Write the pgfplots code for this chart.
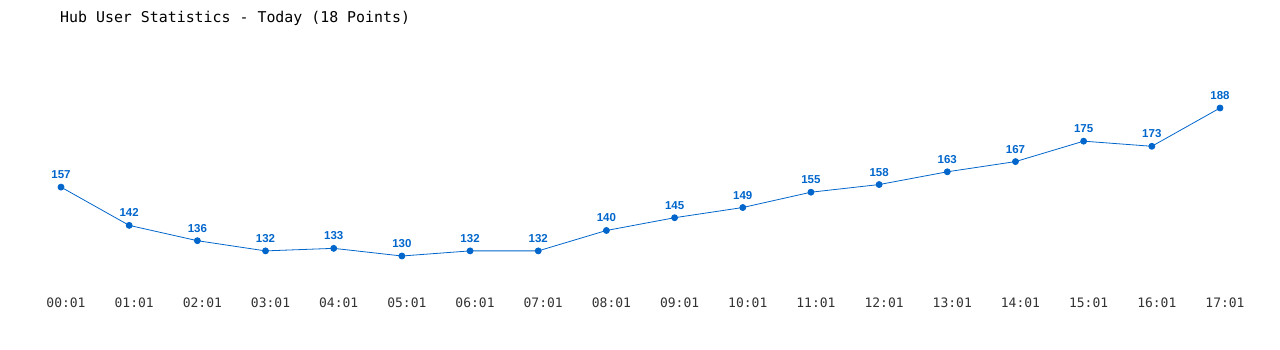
\documentclass[border=0pt]{standalone}
\usepackage{fontspec}
\setmainfont{Liberation Sans}
\newfontfamily\monofont{DejaVu Sans Mono}
\usepackage{pgfplots}
\pgfplotsset{compat=1.18}
\definecolor{lineblue}{HTML}{0066CC}
\definecolor{ticktext}{HTML}{333333}
\begin{document}
\begin{tikzpicture}[x=1pt,y=1pt]
\fill[white] (0,0) rectangle (1280,350);
\useasboundingbox (0,0) rectangle (1280,350);
\node[anchor=west, inner sep=0, text=black, font=\monofont\fontsize{14.9}{16}\selectfont] at (60,332) {Hub User Statistics - Today (18 Points)};
\begin{axis}[
  at={(61pt,94pt)}, anchor=origin,
  scale only axis, width=1159pt, height=148pt,
  xmin=0, xmax=17, ymin=130, ymax=188,
  clip=false,
  axis line style={draw=none},
  ytick=\empty,
  xtick={0,...,17},
  xticklabels={00:01,01:01,02:01,03:01,04:01,05:01,06:01,07:01,08:01,09:01,10:01,11:01,12:01,13:01,14:01,15:01,16:01,17:01},
  major tick length=0pt,
  xticklabel style={anchor=center, yshift=-47pt, xshift=5pt, text=ticktext, font=\monofont\fontsize{13}{14}\selectfont},
  /pgf/number format/assume math mode=true,
  nodes near coords,
  every node near coord/.append style={anchor=south, inner sep=0pt, yshift=8pt, text=lineblue, font=\bfseries\fontsize{11.5}{12}\selectfont},
]
\addplot[color=lineblue, line width=0.8pt, mark=*, mark size=3pt, mark options={fill=lineblue, draw=lineblue}] coordinates {
(0,157) (1,142) (2,136) (3,132) (4,133) (5,130) (6,132) (7,132) (8,140) (9,145) (10,149) (11,155) (12,158) (13,163) (14,167) (15,175) (16,173) (17,188)
};
\end{axis}
\end{tikzpicture}
\end{document}
